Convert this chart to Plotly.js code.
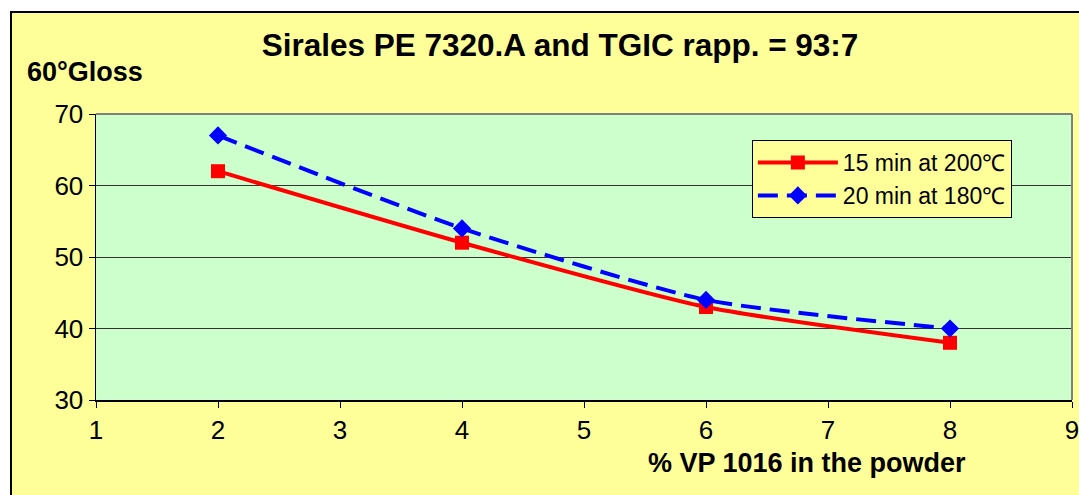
<!DOCTYPE html>
<html><head><meta charset="utf-8">
<script src="https://cdn.plot.ly/plotly-3.0.1.min.js"></script>
<style>html,body{margin:0;padding:0;background:#fff;}#chart{width:1079px;height:495px;}</style>
</head><body><div id="chart"></div>
<script>
const xValues = [2, 4, 6, 8];
const series1Name = "15 min at 200\u2103";
const series1Values = [62, 52, 43, 38];
const series2Name = "20 min at 180\u2103";
const series2Values = [67, 54, 44, 40];
const xTicks = [1, 2, 3, 4, 5, 6, 7, 8, 9];
const yTicks = [30, 40, 50, 60, 70];
const chartTitle = "Sirales PE 7320.A and TGIC rapp. = 93:7";
const yTitle = "60\u00b0Gloss";
const xTitle = "% VP 1016 in the powder";

const font = "Arial, 'Liberation Sans', sans-serif";
const traces = [
  {x: xValues, y: series1Values, name: series1Name, type: 'scatter', mode: 'lines+markers',
   line: {color: '#FF0000', width: 4, shape: 'spline', smoothing: 0.6},
   marker: {symbol: 'square', size: 14, color: '#FF0000'}},
  {x: xValues, y: series2Values, name: series2Name, type: 'scatter', mode: 'lines+markers',
   line: {color: '#0000FF', width: 4, shape: 'spline', smoothing: 0.6, dash: '20px,9px'},
   marker: {symbol: 'diamond', size: 14, color: '#0000FF'}}
];
const layout = {
  width: 1079, height: 495,
  margin: {l: 96, r: 7, t: 114, b: 95},
  paper_bgcolor: '#FFFFFF', plot_bgcolor: '#CCFFCC',
  font: {family: font, color: '#000', size: 26},
  title: {text: '<b>' + chartTitle + '</b>', font: {size: 31.5, family: font}, x: 0.519, xanchor: 'center', y: 0.909, yanchor: 'middle'},
  xaxis: {range: [1, 9], tickvals: xTicks, ticks: 'outside', ticklen: 6, tickcolor: '#000', showgrid: false, zeroline: false,
          showline: true, linecolor: '#000', linewidth: 1.5, tickfont: {size: 26}, fixedrange: true, ticklabeloverflow: 'allow'},
  yaxis: {range: [30, 70], tickvals: yTicks, ticks: 'outside', ticklen: 6, tickcolor: '#000', showgrid: true, gridcolor: '#333', gridwidth: 1,
          zeroline: false, showline: true, linecolor: '#000', linewidth: 1.5, tickfont: {size: 26}, fixedrange: true},
  legend: {x: 0.672, y: 0.909, xanchor: 'left', yanchor: 'top', bgcolor: '#FFFF99', bordercolor: '#000', borderwidth: 1,
           font: {size: 23}, itemwidth: 80, tracegroupgap: 0},
  showlegend: true,
  shapes: [
    {type: 'rect', xref: 'paper', yref: 'paper', x0: -0.0871, x1: 1.02, y0: -0.36, y1: 1.3566, layer: 'below',
     fillcolor: '#FFFF99', line: {color: '#000', width: 2}},
    {type: 'rect', xref: 'paper', yref: 'paper', x0: 0, x1: 1, y0: 0, y1: 1, layer: 'below',
     fillcolor: '#CCFFCC', line: {width: 0}},
    {type: 'line', xref: 'paper', yref: 'paper', x0: 0, x1: 1, y0: 1, y1: 1, line: {color: '#808080', width: 2}},
    {type: 'line', xref: 'paper', yref: 'paper', x0: 1, x1: 1, y0: 0, y1: 1, line: {color: '#808080', width: 2}}
  ],
  annotations: [
    {text: '<b>' + yTitle + '</b>', xref: 'paper', yref: 'paper', x: -0.0727, y: 1.147, xanchor: 'left', yanchor: 'middle', showarrow: false, font: {size: 27}},
    {text: '<b>' + xTitle + '</b>', xref: 'paper', yref: 'paper', x: 0.7285, y: -0.22, xanchor: 'center', yanchor: 'middle', showarrow: false, font: {size: 27}}
  ]
};
Plotly.newPlot('chart', traces, layout, {displayModeBar: false, staticPlot: true});
</script></body></html>
